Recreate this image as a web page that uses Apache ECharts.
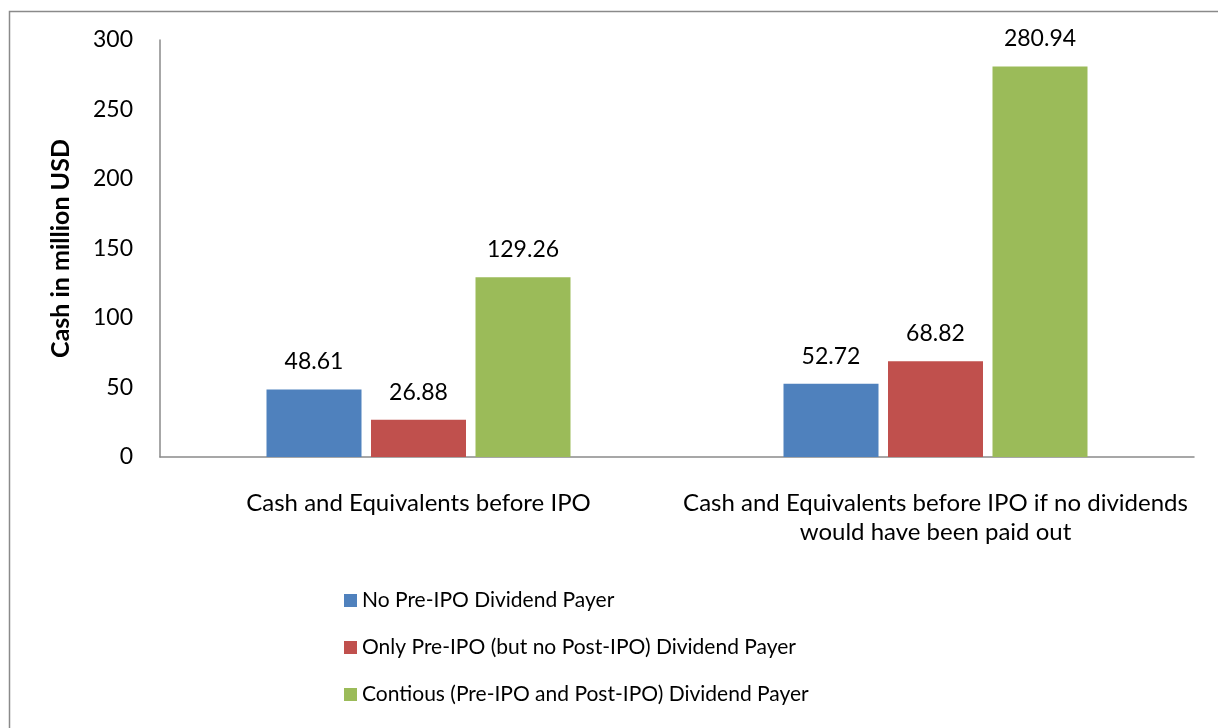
<!DOCTYPE html>
<html><head><meta charset="utf-8">
<script src="https://cdn.jsdelivr.net/npm/echarts@6/dist/echarts.min.js"></script>
<style>html,body{margin:0;padding:0;background:#fff}#c{width:1218px;height:728px}</style>
</head><body><div id="c"></div>
<script>
const categories = ['Cash and Equivalents before IPO', 'Cash and Equivalents before IPO if no dividends\nwould have been paid out'];
const seriesNames = ['No Pre-IPO Dividend Payer', 'Only Pre-IPO (but no Post-IPO) Dividend Payer', 'Contious (Pre-IPO and Post-IPO) Dividend Payer'];
const noPreIpo = [48.61, 52.72];
const onlyPreIpo = [26.88, 68.82];
const continuous = [129.26, 280.94];
const yTicks = [0, 50, 100, 150, 200, 250, 300];
const colors = ['#4F81BD', '#C0504D', '#9BBB59'];
const values = [noPreIpo, onlyPreIpo, continuous];
const FONT = 'Lato';
const chart = echarts.init(document.getElementById('c'));
chart.setOption({
  animation: false,
  textStyle: {fontFamily: FONT},
  graphic: [{type: 'rect', shape: {x: 9.5, y: 11.5, width: 1220, height: 740}, style: {fill: 'none', stroke: '#8a8a8a', lineWidth: 1.5}, silent: true}],
  grid: {left: 160, right: 24, top: 40, bottom: 271},
  legend: {
    orient: 'vertical', left: 344, top: 590, padding: 0, itemWidth: 13, itemHeight: 13, itemGap: 26,
    icon: 'rect',
    textStyle: {fontFamily: FONT, fontSize: 21, color: '#000'},
    data: seriesNames
  },
  xAxis: {
    type: 'category', data: categories,
    axisLine: {lineStyle: {color: '#8a8a8a', width: 1.5}},
    axisTick: {show: false},
    axisLabel: {fontFamily: FONT, fontSize: 24, color: '#000', margin: 32, lineHeight: 29, interval: 0}
  },
  yAxis: {
    type: 'value', min: yTicks[0], max: yTicks[yTicks.length - 1], interval: 50,
    name: 'Cash in million USD', nameLocation: 'middle', nameGap: 87,
    nameTextStyle: {fontFamily: FONT, fontSize: 25, fontWeight: 'bold', color: '#000'},
    axisLine: {show: true, lineStyle: {color: '#8a8a8a', width: 1.5}},
    axisTick: {show: false},
    splitLine: {show: false},
    axisLabel: {fontFamily: FONT, fontSize: 23, color: '#000', margin: 27}
  },
  series: seriesNames.map((n, i) => ({
    name: n, type: 'bar', data: values[i], barWidth: 95, barGap: '10%',
    itemStyle: {color: colors[i]},
    label: {show: true, position: 'top', distance: 16, fontFamily: FONT, fontSize: 23, color: '#000', formatter: p => p.value.toFixed(2)}
  }))
});
</script></body></html>
